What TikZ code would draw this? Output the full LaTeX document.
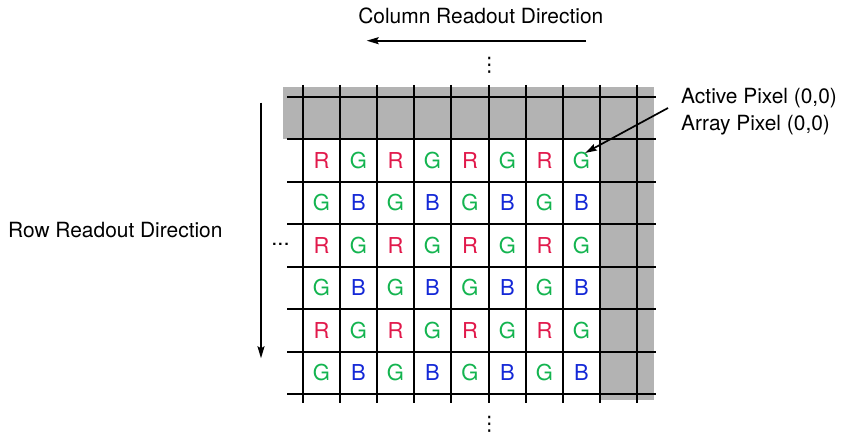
\documentclass[tikz,border=0pt]{standalone}
\usepackage{fontspec}
\setmainfont{TeX Gyre Heros}
\newfontfamily\symfont{DejaVu Sans}
\usetikzlibrary{arrows.meta}
\definecolor{pixR}{RGB}{225,25,75}
\definecolor{pixG}{RGB}{20,180,80}
\definecolor{pixB}{RGB}{20,40,215}
\definecolor{bordergray}{RGB}{179,179,179}
\begin{document}
\begin{tikzpicture}[x=1bp,y=-1bp,
  gridline/.style={line width=2bp},
  arrowline/.style={line width=1.7bp,-{Stealth[length=12bp,width=7bp,inset=2bp]}},
  lbl/.style={font=\fontsize{21}{27.7}\selectfont, inner sep=0pt},
  pix/.style={font=\fontsize{22}{26}\selectfont, inner sep=0pt},
  vdotsnode/.style={font=\symfont\fontsize{20}{24}\selectfont, inner sep=0pt},
]
\useasboundingbox (0,0) rectangle (842,437);
% shaded dark border
\fill[bordergray] (283,87) rectangle (654,139);
\fill[bordergray] (600,87) rectangle (654,400);
% grid
\foreach \gx in {303,340,377,414,451,489,526,563,600,637}
  \draw[gridline] (\gx,85) -- (\gx,403);
\foreach \gy in {97,139,182,224,267,309,352,394}
  \draw[gridline] (287,\gy) -- (656,\gy);
% pixels
\foreach \py [count=\r] in {160.5,203,245.5,288,330.5,373}{
  \foreach \px [count=\c] in {321.5,358.5,395.5,432.5,470,507.5,544.5,581.5}{
    \pgfmathtruncatemacro{\k}{2*mod(\r+1,2)+mod(\c+1,2)}
    \ifcase\k \def\L{R}\def\C{pixR}\or \def\L{G}\def\C{pixG}\or \def\L{G}\def\C{pixG}\or \def\L{B}\def\C{pixB}\fi
    \node[pix,text=\C] (c\r-\c) at (\px,\py) {\L};
  }
}
% labels
\node[lbl, anchor=base] (title) at (480.8,23.3) {Column Readout Direction};
\coordinate (colS) at (586,40.7);
\coordinate (colE) at (366.7,40.7);
\draw[arrowline] (colS) -- (colE);
\node[lbl, anchor=base west] (rowlbl) at (8,237.3) {Row Readout Direction};
\coordinate (rowS) at (261,102.7);
\coordinate (rowE) at (261,358.3);
\draw[arrowline] (rowS) -- (rowE);
\node[lbl, anchor=base west] (act1) at (681,103.3) {Active Pixel (0,0)};
\node[lbl, anchor=base west] (act2) at (681,131) {Array Pixel (0,0)};
\coordinate (actS) at (668,108);
\coordinate (actE) at (585,153);
\draw[arrowline] (actS) -- (actE);
% continuation dots
\node[pix, anchor=base] (hdots) at (280.5,245.3) {...};
\node[vdotsnode] (vtop) at (489.3,65.7) {⋮};
\node[vdotsnode] (vbot) at (489.3,424.3) {⋮};
\end{tikzpicture}
\end{document}
